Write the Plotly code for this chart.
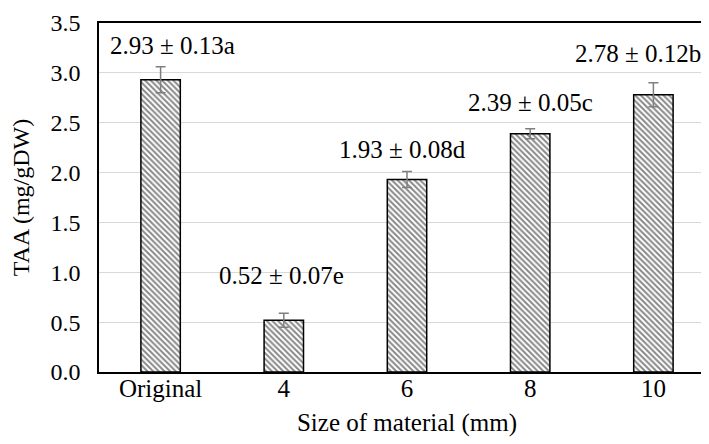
import plotly.graph_objects as go

categories = ["Original", "4", "6", "8", "10"]
taa_mean = [2.93, 0.52, 1.93, 2.39, 2.78]
taa_sd = [0.13, 0.07, 0.08, 0.05, 0.12]
letters = ["a", "e", "d", "c", "b"]
y_ticks = [0.0, 0.5, 1.0, 1.5, 2.0, 2.5, 3.0, 3.5]

# label pixel offsets (style only)
label_xshift = [12, -2, -5, 0, -15]
label_yshift = [21, 38, 22, 26, 29]

FONT = "Liberation Serif, Times New Roman, serif"

fig = go.Figure()
fig.add_trace(go.Bar(
    x=categories,
    y=taa_mean,
    error_y=dict(type="data", array=taa_sd, visible=True,
                 color="#7f7f7f", thickness=1.5, width=5),
    marker=dict(
        color="white",
        line=dict(color="black", width=1.5),
        pattern=dict(shape="\\", fgcolor="#111111", bgcolor="white",
                     size=4, solidity=0.5),
    ),
    width=0.32,
    showlegend=False,
))

for i, c in enumerate(categories):
    # category index used as position so numeric-looking names are not misread
    fig.add_annotation(
        x=i, y=taa_mean[i] + taa_sd[i], xref="x", yref="y",
        text=f"{taa_mean[i]:.2f} ± {taa_sd[i]:.2f}{letters[i]}",
        showarrow=False, xanchor="center", yanchor="middle",
        xshift=label_xshift[i], yshift=label_yshift[i],
        font=dict(family=FONT, size=25, color="black"),
    )

fig.update_layout(
    width=709, height=444,
    margin=dict(l=91, r=2, t=15, b=80),
    paper_bgcolor="white", plot_bgcolor="white",
    font=dict(family=FONT, size=24, color="black"),
    xaxis=dict(
        type="category", range=[-0.5, len(categories) - 0.5],
        automargin=False,
        showline=True, linecolor="black", linewidth=1.5, mirror=True,
        showgrid=False, ticks="",
        tickfont=dict(family=FONT, size=25),
        ticklabelstandoff=-7,
        title=dict(text="Size of material (mm)", font=dict(family=FONT, size=25), standoff=13),
    ),
    yaxis=dict(
        range=[0, 3.5], tickvals=y_ticks,
        ticktext=[f"{v:.1f}" for v in y_ticks],
        automargin=False,
        showline=True, linecolor="black", linewidth=1.5, mirror=True,
        showgrid=True, gridcolor="#d9d9d9", gridwidth=1,
        zeroline=False, ticks="",
        tickfont=dict(family=FONT, size=24),
        ticklabelstandoff=12,
        title=dict(text="TAA (mg/gDW)", font=dict(family=FONT, size=24), standoff=20),
    ),
)

fig.write_html("out.html")
